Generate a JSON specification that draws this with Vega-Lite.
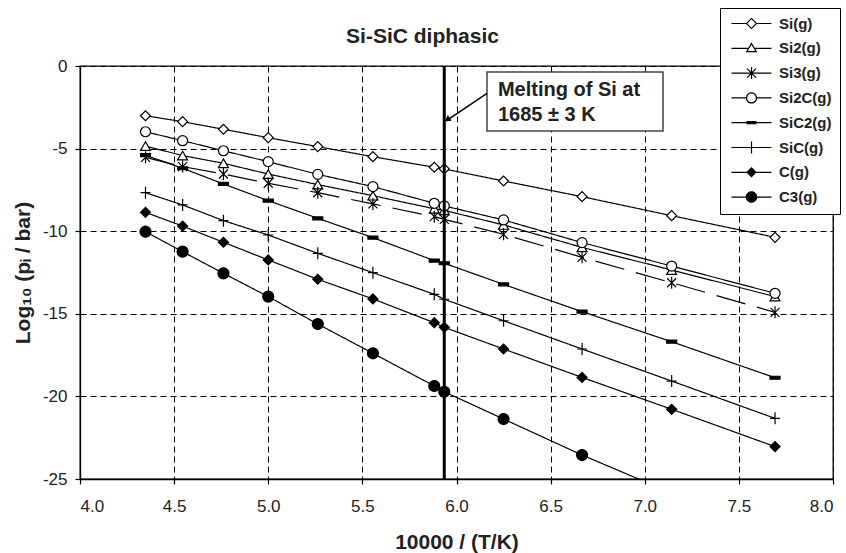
{
  "$schema": "https://vega.github.io/schema/vega-lite/v6.json",
  "width": 753,
  "height": 413,
  "autosize": "none",
  "padding": {"left": 80, "top": 66, "right": 13, "bottom": 74},
  "background": "white",
  "config": {
    "font": "Liberation Sans",
    "view": {"stroke": "black", "strokeWidth": 1.3},
    "axis": {
      "grid": true,
      "gridDash": [6, 4],
      "gridColor": "black",
      "gridWidth": 1,
      "gridOpacity": 1,
      "domainColor": "black",
      "domainWidth": 1.3,
      "tickColor": "black",
      "tickSize": 5,
      "tickWidth": 1.2,
      "labelFont": "Liberation Sans",
      "labelFontSize": 17,
      "labelColor": "#222",
      "titleFont": "Liberation Sans",
      "titleFontSize": 21,
      "titleFontWeight": "bold",
      "titleColor": "#222"
    }
  },
  "title": {
    "text": "Si-SiC diphasic",
    "font": "Liberation Sans",
    "fontSize": 21,
    "fontWeight": "bold",
    "color": "#222",
    "anchor": "middle",
    "frame": "group",
    "dx": -34,
    "dy": 39,
    "offset": 0
  },
  "datasets": {
    "pts": [
      {"species": "Si(g)", "x": 4.348, "y": -3.01},
      {"species": "Si(g)", "x": 4.545, "y": -3.37},
      {"species": "Si(g)", "x": 4.762, "y": -3.83},
      {"species": "Si(g)", "x": 5.0, "y": -4.34},
      {"species": "Si(g)", "x": 5.263, "y": -4.88},
      {"species": "Si(g)", "x": 5.556, "y": -5.49},
      {"species": "Si(g)", "x": 5.882, "y": -6.13},
      {"species": "Si(g)", "x": 5.935, "y": -6.23},
      {"species": "Si(g)", "x": 6.25, "y": -6.96},
      {"species": "Si(g)", "x": 6.667, "y": -7.91},
      {"species": "Si(g)", "x": 7.143, "y": -9.06},
      {"species": "Si(g)", "x": 7.692, "y": -10.37},
      {"species": "Si2(g)", "x": 4.348, "y": -4.85},
      {"species": "Si2(g)", "x": 4.545, "y": -5.42},
      {"species": "Si2(g)", "x": 4.762, "y": -5.89},
      {"species": "Si2(g)", "x": 5.0, "y": -6.54},
      {"species": "Si2(g)", "x": 5.263, "y": -7.18},
      {"species": "Si2(g)", "x": 5.556, "y": -7.85},
      {"species": "Si2(g)", "x": 5.882, "y": -8.64},
      {"species": "Si2(g)", "x": 5.935, "y": -8.74},
      {"species": "Si2(g)", "x": 6.25, "y": -9.62},
      {"species": "Si2(g)", "x": 6.667, "y": -10.98},
      {"species": "Si2(g)", "x": 7.143, "y": -12.35},
      {"species": "Si2(g)", "x": 7.692, "y": -13.96},
      {"species": "Si3(g)", "x": 4.348, "y": -5.53},
      {"species": "Si3(g)", "x": 4.545, "y": -6.09},
      {"species": "Si3(g)", "x": 4.762, "y": -6.54},
      {"species": "Si3(g)", "x": 5.0, "y": -7.10},
      {"species": "Si3(g)", "x": 5.263, "y": -7.67},
      {"species": "Si3(g)", "x": 5.556, "y": -8.35},
      {"species": "Si3(g)", "x": 5.882, "y": -9.12},
      {"species": "Si3(g)", "x": 5.935, "y": -9.28},
      {"species": "Si3(g)", "x": 6.25, "y": -10.19},
      {"species": "Si3(g)", "x": 6.667, "y": -11.58},
      {"species": "Si3(g)", "x": 7.143, "y": -13.12},
      {"species": "Si3(g)", "x": 7.692, "y": -14.91},
      {"species": "Si2C(g)", "x": 4.348, "y": -3.98},
      {"species": "Si2C(g)", "x": 4.545, "y": -4.52},
      {"species": "Si2C(g)", "x": 4.762, "y": -5.13},
      {"species": "Si2C(g)", "x": 5.0, "y": -5.79},
      {"species": "Si2C(g)", "x": 5.263, "y": -6.56},
      {"species": "Si2C(g)", "x": 5.556, "y": -7.30},
      {"species": "Si2C(g)", "x": 5.882, "y": -8.31},
      {"species": "Si2C(g)", "x": 5.935, "y": -8.47},
      {"species": "Si2C(g)", "x": 6.25, "y": -9.32},
      {"species": "Si2C(g)", "x": 6.667, "y": -10.69},
      {"species": "Si2C(g)", "x": 7.143, "y": -12.11},
      {"species": "Si2C(g)", "x": 7.692, "y": -13.76},
      {"species": "SiC2(g)", "x": 4.348, "y": -5.40},
      {"species": "SiC2(g)", "x": 4.545, "y": -6.19},
      {"species": "SiC2(g)", "x": 4.762, "y": -7.14},
      {"species": "SiC2(g)", "x": 5.0, "y": -8.15},
      {"species": "SiC2(g)", "x": 5.263, "y": -9.22},
      {"species": "SiC2(g)", "x": 5.556, "y": -10.39},
      {"species": "SiC2(g)", "x": 5.882, "y": -11.78},
      {"species": "SiC2(g)", "x": 5.935, "y": -11.94},
      {"species": "SiC2(g)", "x": 6.25, "y": -13.22},
      {"species": "SiC2(g)", "x": 6.667, "y": -14.87},
      {"species": "SiC2(g)", "x": 7.143, "y": -16.69},
      {"species": "SiC2(g)", "x": 7.692, "y": -18.87},
      {"species": "SiC(g)", "x": 4.348, "y": -7.67},
      {"species": "SiC(g)", "x": 4.545, "y": -8.41},
      {"species": "SiC(g)", "x": 4.762, "y": -9.36},
      {"species": "SiC(g)", "x": 5.0, "y": -10.23},
      {"species": "SiC(g)", "x": 5.263, "y": -11.34},
      {"species": "SiC(g)", "x": 5.556, "y": -12.51},
      {"species": "SiC(g)", "x": 5.882, "y": -13.82},
      {"species": "SiC(g)", "x": 5.935, "y": -14.12},
      {"species": "SiC(g)", "x": 6.25, "y": -15.42},
      {"species": "SiC(g)", "x": 6.667, "y": -17.13},
      {"species": "SiC(g)", "x": 7.143, "y": -19.07},
      {"species": "SiC(g)", "x": 7.692, "y": -21.33},
      {"species": "C(g)", "x": 4.348, "y": -8.86},
      {"species": "C(g)", "x": 4.545, "y": -9.69},
      {"species": "C(g)", "x": 4.762, "y": -10.67},
      {"species": "C(g)", "x": 5.0, "y": -11.74},
      {"species": "C(g)", "x": 5.263, "y": -12.91},
      {"species": "C(g)", "x": 5.556, "y": -14.10},
      {"species": "C(g)", "x": 5.882, "y": -15.54},
      {"species": "C(g)", "x": 5.935, "y": -15.82},
      {"species": "C(g)", "x": 6.25, "y": -17.13},
      {"species": "C(g)", "x": 6.667, "y": -18.85},
      {"species": "C(g)", "x": 7.143, "y": -20.78},
      {"species": "C(g)", "x": 7.692, "y": -23.04},
      {"species": "C3(g)", "x": 4.348, "y": -10.03},
      {"species": "C3(g)", "x": 4.545, "y": -11.24},
      {"species": "C3(g)", "x": 4.762, "y": -12.55},
      {"species": "C3(g)", "x": 5.0, "y": -13.96},
      {"species": "C3(g)", "x": 5.263, "y": -15.62},
      {"species": "C3(g)", "x": 5.556, "y": -17.39},
      {"species": "C3(g)", "x": 5.882, "y": -19.37},
      {"species": "C3(g)", "x": 5.935, "y": -19.72},
      {"species": "C3(g)", "x": 6.25, "y": -21.37},
      {"species": "C3(g)", "x": 6.667, "y": -23.55},
      {"species": "C3(g)", "x": 7.143, "y": -25.85}
    ]
  },
  "layer": [
    {
      "data": {"name": "pts"},
      "mark": {"type": "line", "color": "black", "strokeWidth": 1.2, "clip": true},
      "encoding": {
        "x": {
          "field": "x", "type": "quantitative",
          "scale": {"domain": [4, 8], "nice": false, "zero": false},
          "axis": {"values": [4, 4.5, 5, 5.5, 6, 6.5, 7, 7.5, 8], "format": ".1f", "title": "10000 / (T/K)", "labelPadding": 14, "titlePadding": 17}
        },
        "y": {
          "field": "y", "type": "quantitative",
          "scale": {"domain": [-25, 0], "nice": false, "zero": false},
          "axis": {"values": [0, -5, -10, -15, -20, -25], "labelExpr": "'' + datum.value", "title": "Log₁₀ (pᵢ / bar)", "labelPadding": 8, "titlePadding": 9}
        },
        "detail": {"field": "species", "type": "nominal"},
        "strokeDash": {
          "field": "species", "type": "nominal",
          "scale": {
            "domain": ["Si(g)", "Si2(g)", "Si3(g)", "Si2C(g)", "SiC2(g)", "SiC(g)", "C(g)", "C3(g)"],
            "range": [[1, 0], [1, 0], [30, 12], [1, 0], [1, 0], [1, 0], [1, 0], [1, 0]]
          },
          "legend": null
        }
      }
    },
    {
      "data": {"name": "pts"},
      "mark": {"type": "point", "stroke": "black", "strokeWidth": 1.2, "size": 100, "opacity": 1, "clip": true},
      "encoding": {
        "x": {"field": "x", "type": "quantitative"},
        "y": {"field": "y", "type": "quantitative"},
        "shape": {
          "field": "species", "type": "nominal",
          "scale": {
            "domain": ["Si(g)", "Si2(g)", "Si3(g)", "Si2C(g)", "SiC2(g)", "SiC(g)", "C(g)", "C3(g)"],
            "range": [
              "diamond",
              "triangle-up",
              "M-0.9,-0.9L0.9,0.9M-0.9,0.9L0.9,-0.9M0,-1.2L0,1.2",
              "circle",
              "M-1,-0.3L1,-0.3L1,0.3L-1,0.3Z",
              "M-1,0L1,0M0,-1.2L0,1.2",
              "diamond",
              "M-1.1,0A1.1,1.1,0,1,0,1.1,0A1.1,1.1,0,1,0,-1.1,0Z"
            ]
          },
          "legend": null
        },
        "fill": {
          "field": "species", "type": "nominal",
          "scale": {
            "domain": ["Si(g)", "Si2(g)", "Si3(g)", "Si2C(g)", "SiC2(g)", "SiC(g)", "C(g)", "C3(g)"],
            "range": ["white", "white", "transparent", "white", "black", "transparent", "black", "black"]
          },
          "legend": null
        }
      }
    },
    {
      "data": {"values": [{"x": 5.935}]},
      "mark": {"type": "rule", "color": "black", "strokeWidth": 3},
      "encoding": {"x": {"field": "x", "type": "quantitative"}}
    },
    {
      "data": {"values": [{"xa": 6.162, "xb": 7.097, "ya": -0.363, "yb": -3.93}]},
      "mark": {"type": "rect", "fill": "white", "stroke": "#444", "strokeWidth": 1.5},
      "encoding": {
        "x": {"field": "xa", "type": "quantitative"},
        "x2": {"field": "xb"},
        "y": {"field": "ya", "type": "quantitative"},
        "y2": {"field": "yb"}
      }
    },
    {
      "data": {"values": [
        {"x": 6.22, "y": -1.45, "label": "Melting of Si at"},
        {"x": 6.22, "y": -2.97, "label": "1685 ± 3 K"}
      ]},
      "mark": {"type": "text", "align": "left", "baseline": "middle", "font": "Liberation Sans", "fontSize": 20, "fontWeight": "bold", "color": "#222"},
      "encoding": {
        "x": {"field": "x", "type": "quantitative"},
        "y": {"field": "y", "type": "quantitative"},
        "text": {"field": "label"}
      }
    },
    {
      "data": {"values": [{"xa": 6.162, "ya": -1.65, "xb": 5.945, "yb": -3.32}]},
      "mark": {"type": "rule", "color": "black", "strokeWidth": 1.5},
      "encoding": {
        "x": {"field": "xa", "type": "quantitative"},
        "y": {"field": "ya", "type": "quantitative"},
        "x2": {"field": "xb"},
        "y2": {"field": "yb"}
      }
    },
    {
      "data": {"values": [{"x": 5.951, "y": -3.24}]},
      "mark": {"type": "point", "shape": "triangle-up", "filled": true, "color": "black", "opacity": 1, "size": 45, "angle": 236},
      "encoding": {
        "x": {"field": "x", "type": "quantitative"},
        "y": {"field": "y", "type": "quantitative"}
      }
    },
    {
      "data": {"name": "pts"},
      "transform": [{"filter": "false"}],
      "mark": {"type": "point", "filled": true, "color": "black", "strokeWidth": 0, "size": 100, "opacity": 1},
      "encoding": {
        "shape": {
          "field": "species", "type": "nominal",
          "scale": {
            "domain": ["Si(g)", "Si2(g)", "Si3(g)", "Si2C(g)", "SiC2(g)", "SiC(g)", "C(g)", "C3(g)"],
            "range": [
              "M-4,-0.12L-1.05,-0.12L-1.05,0.12L-4,0.12Z M1.05,-0.12L4,-0.12L4,0.12L1.05,0.12Z M0,-1.17L1.17,0L0,1.17L-1.17,0Z M0,-0.83L-0.83,0L0,0.83L0.83,0Z",
              "M-4,-0.12L-0.62,-0.12L-0.62,0.12L-4,0.12Z M0.62,-0.12L4,-0.12L4,0.12L0.62,0.12Z M0,-1.2L1.15,0.8L-1.15,0.8Z M0,-0.72L-0.74,0.56L0.74,0.56Z",
              "M-4,-0.12L4,-0.12L4,0.12L-4,0.12Z M-0.12,-1.2L0.12,-1.2L0.12,1.2L-0.12,1.2Z M-0.815,-0.985L0.985,0.815L0.815,0.985L-0.985,-0.815Z M0.985,-0.815L-0.815,0.985L-0.985,0.815L0.815,-0.985Z",
              "M-4,-0.12L-1,-0.12L-1,0.12L-4,0.12Z M1,-0.12L4,-0.12L4,0.12L1,0.12Z M-1.12,0A1.12,1.12,0,1,1,1.12,0A1.12,1.12,0,1,1,-1.12,0Z M-0.88,0A0.88,0.88,0,1,0,0.88,0A0.88,0.88,0,1,0,-0.88,0Z",
              "M-4,-0.12L4,-0.12L4,0.12L-4,0.12Z M-1,-0.32L1,-0.32L1,0.32L-1,0.32Z",
              "M-4,-0.12L4,-0.12L4,0.12L-4,0.12Z M-0.12,-1.2L0.12,-1.2L0.12,1.2L-0.12,1.2Z",
              "M-4,-0.12L4,-0.12L4,0.12L-4,0.12Z M0,-1.05L1.05,0L0,1.05L-1.05,0Z",
              "M-4,-0.12L4,-0.12L4,0.12L-4,0.12Z M-1.15,0A1.15,1.15,0,1,1,1.15,0A1.15,1.15,0,1,1,-1.15,0Z"
            ]
          },
          "legend": {
            "title": null,
            "orient": "none",
            "legendX": 640,
            "legendY": -58,
            "labelFont": "Liberation Sans",
            "labelFontSize": 15,
            "labelFontWeight": "bold",
            "labelColor": "#222",
            "labelLimit": 200,
            "symbolSize": 100,
            "symbolStrokeWidth": 0,
            "symbolFillColor": "black",
            "strokeColor": "black",
            "fillColor": "white",
            "padding": 8,
            "rowPadding": 8.8,
            "symbolOffset": 16,
            "labelOffset": 20
          }
        }
      }
    }
  ],
  "resolve": {"scale": {"shape": "independent", "fill": "independent"}}
}
